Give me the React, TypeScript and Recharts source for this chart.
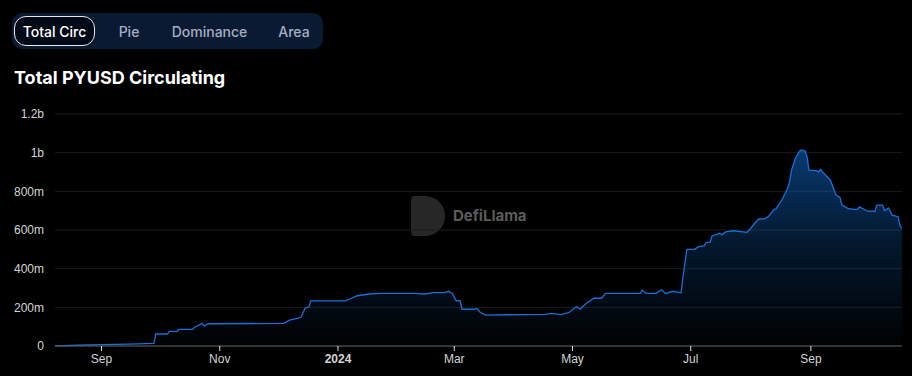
import { AreaChart, Area, XAxis, YAxis, CartesianGrid } from 'recharts';

// PYUSD circulating supply, millions
const dates = [
  '2023-08-08', '2023-08-20', '2023-09-01', '2023-09-15', '2023-09-28', '2023-09-29',
  '2023-10-05', '2023-10-06', '2023-10-10', '2023-10-11', '2023-10-18', '2023-10-19',
  '2023-10-23', '2023-10-24', '2023-10-26', '2023-12-04', '2023-12-07', '2023-12-11',
  '2023-12-13', '2023-12-15', '2023-12-17', '2023-12-18', '2024-01-05', '2024-01-07',
  '2024-01-11', '2024-01-17', '2024-01-23', '2024-02-10', '2024-02-15', '2024-02-19',
  '2024-02-25', '2024-02-27', '2024-02-29', '2024-03-02', '2024-03-04', '2024-03-05',
  '2024-03-11', '2024-03-13', '2024-03-14', '2024-03-17', '2024-04-17', '2024-04-20',
  '2024-04-25', '2024-04-29', '2024-05-03', '2024-05-05', '2024-05-08', '2024-05-12',
  '2024-05-16', '2024-05-18', '2024-06-05', '2024-06-06', '2024-06-08', '2024-06-13',
  '2024-06-16', '2024-06-18', '2024-06-22', '2024-06-26', '2024-06-27', '2024-06-29',
  '2024-07-03', '2024-07-05', '2024-07-08', '2024-07-09', '2024-07-11', '2024-07-12',
  '2024-07-16', '2024-07-17', '2024-07-19', '2024-07-23', '2024-07-30', '2024-08-01',
  '2024-08-03', '2024-08-05', '2024-08-08', '2024-08-10', '2024-08-13', '2024-08-14',
  '2024-08-17', '2024-08-20', '2024-08-21', '2024-08-22', '2024-08-24', '2024-08-26',
  '2024-08-27', '2024-08-29', '2024-08-30', '2024-08-31', '2024-09-04', '2024-09-05',
  '2024-09-06', '2024-09-07', '2024-09-09', '2024-09-11', '2024-09-14', '2024-09-16',
  '2024-09-17', '2024-09-20', '2024-09-23', '2024-09-25', '2024-09-26', '2024-09-28',
  '2024-09-30', '2024-10-04', '2024-10-05', '2024-10-08', '2024-10-09', '2024-10-11',
  '2024-10-13', '2024-10-16', '2024-10-17', '2024-10-18',
];

const circulating = [
  1, 4, 7, 10, 14, 62,
  62, 76, 76, 86, 86, 97,
  117, 103, 115, 117, 134, 143,
  150, 195, 203, 233, 233, 243,
  260, 269, 272, 272, 269, 276,
  276, 283, 272, 234, 234, 190,
  190, 193, 177, 160, 164, 169,
  162, 172, 203, 191, 220, 247,
  247, 272, 272, 290, 272, 272,
  291, 272, 283, 275, 358, 500,
  500, 514, 519, 536, 536, 569,
  583, 575, 590, 596, 588, 609,
  635, 657, 658, 669, 707, 709,
  755, 816, 850, 910, 971, 1005,
  1014, 1008, 979, 910, 907, 900,
  914, 900, 879, 859, 781, 769,
  729, 712, 707, 707, 720, 710,
  698, 697, 729, 729, 700, 714,
  677, 669, 621, 610,
];

const xTickDates = ['2023-09-01', '2023-11-01', '2024-01-01', '2024-03-01', '2024-05-01', '2024-07-01', '2024-09-01'];
const xTickLabels = ['Sep', 'Nov', '2024', 'Mar', 'May', 'Jul', 'Sep'];
const yTicks = [0, 200, 400, 600, 800, 1000, 1200];

const tabs = ['Total Circ', 'Pie', 'Dominance', 'Area'];

const toTs = (d: string) => Date.parse(d + 'T00:00:00Z');

const data = dates.map((d, i) => ({ ts: toTs(d), value: circulating[i] }));
const xTicks = xTickDates.map(toTs);

const fmtY = (v: number) => (v === 0 ? '0' : v >= 1000 ? `${v / 1000}b` : `${v}m`);

function XTick(props: any) {
  const { x, y, payload } = props;
  const idx = xTicks.indexOf(payload.value);
  const label = xTickLabels[idx] ?? '';
  return (
    <text
      x={x}
      y={y + 10}
      textAnchor="middle"
      fill="#d4d4d4"
      fontSize={12}
      fontWeight={label === '2024' ? 700 : 400}
      fontFamily="Liberation Sans, Arial, sans-serif"
    >
      {label}
    </text>
  );
}

export default function App() {
  return (
    <div
      style={{
        position: 'absolute',
        left: 0,
        top: 0,
        width: 912,
        height: 376,
        background: '#000',
        overflow: 'hidden',
        fontFamily: 'Inter, sans-serif',
      }}
    >
      <div
        style={{
          position: 'absolute',
          left: 12,
          top: 13,
          width: 311,
          height: 36,
          borderRadius: 10,
          background: '#0a1a33',
        }}
      />
      {tabs.map((t, i) => {
        const lefts = [14, 104, 157, 265];
        const widths = [81, 50, 105, 58];
        const active = i === 0;
        return (
          <div
            key={t}
            style={{
              position: 'absolute',
              left: lefts[i],
              top: 16,
              width: widths[i],
              height: 30,
              boxSizing: 'border-box',
              borderRadius: 12,
              border: active ? '1px solid #e8e8e8' : 'none',
              background: active ? '#020a18' : 'transparent',
              color: active ? '#ffffff' : '#a4afc0',
              fontSize: 14,
              fontWeight: 500,
              display: 'flex',
              alignItems: 'center',
              justifyContent: 'center',
            }}
          >
            {t}
          </div>
        );
      })}
      <div
        style={{
          position: 'absolute',
          left: 14,
          top: 67,
          color: '#fff',
          fontSize: 18,
          fontWeight: 700,
          lineHeight: '22px',
        }}
      >
        Total PYUSD Circulating
      </div>

      {/* watermark */}
      <div
        style={{
          position: 'absolute',
          left: 411,
          top: 196,
          width: 34,
          height: 40,
          background: '#2b2b2b',
          borderRadius: '4px 20px 20px 4px',
          opacity: 0.9,
        }}
      />
      <div
        style={{
          position: 'absolute',
          left: 453,
          top: 206,
          color: '#5c5c5c',
          fontSize: 15,
          fontWeight: 700,
          lineHeight: '20px',
        }}
      >
        DefiLlama
      </div>

      <div style={{ position: 'absolute', left: 0, top: 0 }}>
        <AreaChart width={912} height={376} data={data} margin={{ top: 114, right: 10, left: 0, bottom: 0 }}>
          <defs>
            <linearGradient id="pyusdFill" x1="0" y1="0" x2="0" y2="1">
              <stop offset="0%" stopColor="#0d5fb8" stopOpacity={1} />
              <stop offset="50%" stopColor="#0d5fb8" stopOpacity={0.4} />
              <stop offset="100%" stopColor="#0d5fb8" stopOpacity={0.02} />
            </linearGradient>
          </defs>
          <CartesianGrid vertical={false} stroke="#1c1c1c" />
          <XAxis
            dataKey="ts"
            type="number"
            scale="time"
            domain={[toTs('2023-08-08'), toTs('2024-10-18')]}
            ticks={xTicks}
            tick={<XTick />}
            height={30}
            tickSize={5}
            tickLine={{ stroke: '#e0e0e0' }}
            axisLine={{ stroke: '#5a5a5a' }}
            allowDataOverflow
          />
          <YAxis
            domain={[0, 1200]}
            ticks={yTicks}
            tickFormatter={fmtY}
            width={55}
            tickSize={0}
            tickMargin={11}
            axisLine={false}
            tickLine={false}
            tick={{ fill: '#d4d4d4', fontSize: 12, fontFamily: 'Liberation Sans, Arial, sans-serif' }}
          />
          <Area
            type="linear"
            dataKey="value"
            stroke="#1b6fd6"
            strokeWidth={1.3}
            fill="url(#pyusdFill)"
            isAnimationActive={false}
            dot={false}
            activeDot={false}
          />
        </AreaChart>
      </div>
    </div>
  );
}
